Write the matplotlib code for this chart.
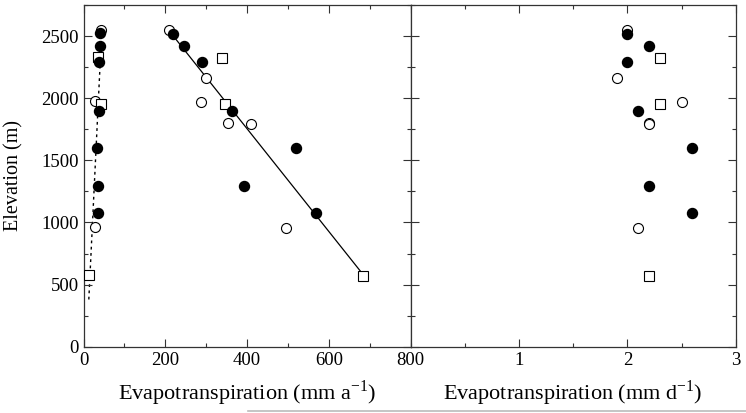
import matplotlib.pyplot as plt
from matplotlib.ticker import MultipleLocator
from matplotlib.lines import Line2D

plt.rcParams['font.family'] = ['Liberation Serif', 'DejaVu Serif']

# annual ET, upper cluster (mm a-1)
hi_filled_et = [218, 245, 290, 363, 519, 392, 568]
hi_filled_z = [2520, 2420, 2291, 1900, 1603, 1292, 1075]
hi_open_et = [210, 299, 288, 353, 410, 494]
hi_open_z = [2546, 2165, 1970, 1804, 1796, 957]
hi_sq_et = [339, 345, 684]
hi_sq_z = [2321, 1951, 571]

# annual ET, lower cluster (mm a-1)
lo_filled_et = [40, 41.5, 37.5, 37.5, 32.5, 35, 36.5]
lo_filled_z = [2524, 2420, 2291, 1900, 1603, 1294, 1080]
lo_open_et = [44, 28.5, 29]
lo_open_z = [2546, 1978, 960]
lo_sq_et = [36, 44, 13.8]
lo_sq_z = [2331, 1954, 574]

# fitted lines
fit_solid_et = [210, 685]
fit_solid_z = [2540, 575]
fit_dot_et = [13, 41]
fit_dot_z = [380, 2300]

# daily ET (mm d-1)
d_filled_et = [2.0, 2.2, 2.0, 2.1, 2.6, 2.2, 2.6]
d_filled_z = [2520, 2420, 2291, 1900, 1603, 1292, 1075]
d_open_et = [2.0, 1.9, 2.5, 2.2, 2.2, 2.1]
d_open_z = [2546, 2165, 1970, 1804, 1796, 957]
d_sq_et = [2.3, 2.3, 2.2]
d_sq_z = [2321, 1951, 571]

fig = plt.figure(figsize=(7.46, 4.13), dpi=100)
W, H = 746, 413
ax1 = fig.add_axes([83.5 / W, 1 - 346.7 / H, (410.7 - 83.5) / W, (346.7 - 5) / H])
ax2 = fig.add_axes([410.7 / W, 1 - 346.7 / H, (735.7 - 410.7) / W, (346.7 - 5) / H])

ms = 7.2
filled = dict(marker='o', ls='none', mfc='black', mec='black', ms=ms)
hollow = dict(marker='o', ls='none', mfc='white', mec='black', ms=ms, mew=0.8)
square = dict(marker='s', ls='none', mfc='white', mec='black', ms=ms - 0.4, mew=0.8)

ax1.plot(fit_solid_et, fit_solid_z, color='black', lw=0.9, zorder=1)
ax1.plot(fit_dot_et, fit_dot_z, color='black', lw=1.0, ls=(0, (2, 2.5)), zorder=1)
for et, z, st in [(hi_open_et, hi_open_z, hollow), (hi_sq_et, hi_sq_z, square),
                  (hi_filled_et, hi_filled_z, filled),
                  (lo_open_et, lo_open_z, hollow), (lo_sq_et, lo_sq_z, square),
                  (lo_filled_et, lo_filled_z, filled)]:
    ax1.plot(et, z, zorder=3, **st)

for et, z, st in [(d_open_et, d_open_z, hollow), (d_sq_et, d_sq_z, square),
                  (d_filled_et, d_filled_z, filled)]:
    ax2.plot(et, z, zorder=3, **st)

ax1.set_xlim(0, 800)
ax2.set_xlim(0, 3)
for ax in (ax1, ax2):
    ax.set_ylim(0, 2750)
    ax.yaxis.set_major_locator(MultipleLocator(500))
    ax.yaxis.set_minor_locator(MultipleLocator(250))
    ax.tick_params(which='both', direction='in', top=True, right=True,
                   color='#333333', labelsize=13.5, width=0.8)
    ax.tick_params(which='major', length=6)
    ax.tick_params(which='minor', length=3)
    for s in ax.spines.values():
        s.set_color('#333333')
        s.set_linewidth(0.9)

ax1.xaxis.set_major_locator(MultipleLocator(200))
ax1.xaxis.set_minor_locator(MultipleLocator(100))
ax2.xaxis.set_minor_locator(MultipleLocator(0.5))
ax2.set_xticks([1, 2, 3])
ax2.set_xticklabels(['1', '2', '3'])
ax2.tick_params(labelleft=False)

ax1.set_ylabel('Elevation (m)', fontsize=14.5)
ax1.yaxis.set_label_coords((23 - 83.5) / (410.7 - 83.5), 0.5)
ax1.set_xlabel('Evapotranspiration (mm a$^{\\mathregular{-1}}$)', fontsize=16, labelpad=7)
ax2.set_xlabel('Evapotranspiration (mm d$^{\\mathregular{-1}}$)', fontsize=16, labelpad=7)

fig.add_artist(Line2D([248 / W, 1], [1 - 410.5 / H] * 2, color='#bbbbbb', lw=1.2))

fig.savefig('out.png', dpi=100)
